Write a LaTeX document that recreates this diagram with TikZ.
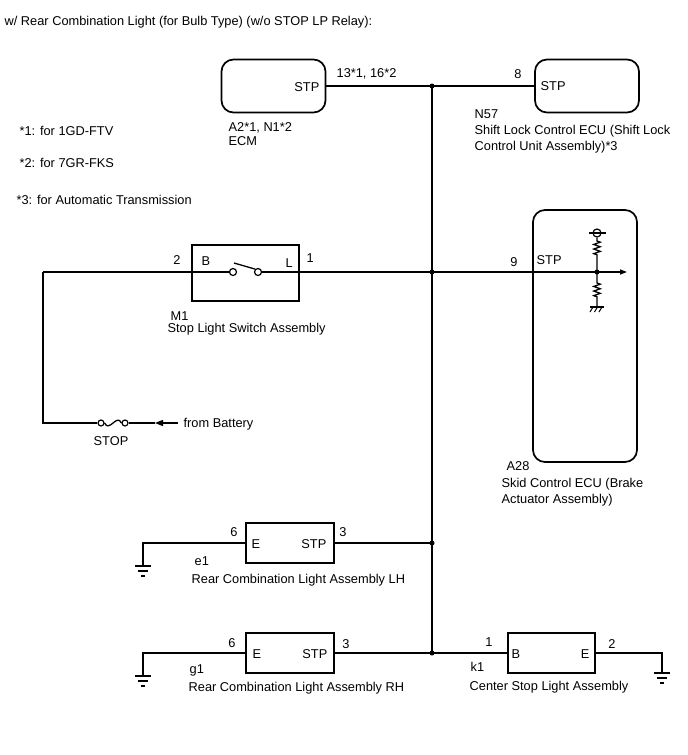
\documentclass[tikz,border=0pt]{standalone}
\usepackage{fontspec}
\setmainfont{Liberation Sans}
\usetikzlibrary{arrows.meta,decorations.pathmorphing}
\newcommand{\wdfont}{\fontsize{12.8}{15}\selectfont}

\begin{document}
\begin{tikzpicture}[x=1pt,y=-1pt,line width=1.3pt,
	every node/.style={inner sep=0pt,font=\wdfont},
	ecubox/.style={draw,line width=1.7pt,rounded corners=12pt,minimum width=104pt},
	conbox/.style={draw,line width=1.5pt,minimum width=88pt,minimum height=40pt},
	contact/.style={circle,draw,line width=1.2pt,fill=white,minimum size=7pt},
	joint/.style={circle,fill,minimum size=5pt},
	res/.style={decoration={zigzag,segment length=4.6pt,amplitude=3.2pt},decorate}]

	\useasboundingbox (0,0) rectangle (688,755);

	% notes
	\node[anchor=base west] (title) at (4,25) {w/ Rear Combination Light (for Bulb Type) (w/o STOP LP Relay):};
	\node[anchor=base west] (note1) at (19,135) {*1: for 1GD-FTV};
	\node[anchor=base west] (note2) at (19,167) {*2: for 7GR-FKS};
	\node[anchor=base west] (note3) at (16,204) {*3: for Automatic Transmission};

	% boxes
	\node[ecubox,minimum height=53pt] (ecm) at (273.5,86) {};
	\node[ecubox,minimum height=53pt] (shift) at (587,86) {};
	\node[ecubox,minimum height=252pt] (skid) at (585,336) {};
	\node[conbox,minimum width=107pt,minimum height=56pt] (swbox) at (245.5,273) {};
	\node[conbox] (rclh) at (290,543) {};
	\node[conbox] (rcrh) at (290,653) {};
	\node[conbox,minimum width=87pt] (cstop) at (551.5,653) {};

	\coordinate (j1) at (432,86);
	\coordinate (j2) at (432,272);
	\coordinate (j3) at (432,543);
	\coordinate (j4) at (432,653);
	\coordinate (skj) at (597,272);
	\coordinate (bendT) at (43,272);
	\coordinate (bendB) at (43,423);
	\coordinate (tip) at (155,423);
	\coordinate (battEnd) at (178,423);
	\coordinate (gndLH) at (143,543);
	\coordinate (gndRH) at (143,653);
	\coordinate (gndC) at (662,653);

	% wires
	\draw (ecm.east) -- (shift.west);
	\draw (j1) -- (j4);
	\draw (rclh.east) -- (j3);
	\draw (rcrh.east) -- (cstop.west);
	\draw (rclh.west) -| (gndLH) -- ++(0,23);
	\draw (rcrh.west) -| (gndRH) -- ++(0,23);
	\draw (cstop.east) -| (gndC) -- ++(0,20);
	\foreach \g/\d in {gndLH/23,gndRH/23,gndC/20} {
		\draw (\g) ++(-8,\d) -- ++(16,0);
		\draw (\g) ++(-5,\d+5) -- ++(10,0);
		\draw (\g) ++(-2,\d+10) -- ++(4,0);
	}

	% switch
	\node[contact] (c1) at (233,272) {};
	\node[contact] (c2) at (258,272) {};
	\draw (bendT) -- (c1.west);
	\draw (c2.east) -- (skj);
	\draw (c1) ++(1,-9) -- (c2.north west);

	% fuse and battery feed
	\node[contact,minimum size=6pt] (fa) at (101,423) {};
	\node[contact,minimum size=6pt] (fb) at (125,423) {};
	\draw (bendT) -- (bendB) -- (fa.west);
	\draw (fa.east) .. controls (109,433) and (117,413) .. (fb.west);
	\draw (fb.east) -- (tip);
	\draw[-{Triangle[length=8pt,width=6pt]}] (battEnd) -- (tip);

	% skid control ecu inside
	\node[contact,minimum size=8pt] (vc) at (597,233) {};
	\draw (589,233) -- (606,233);
	\draw (vc.south) -- (597,241) decorate[res] {-- (597,257)} -- (skj);
	\draw (skj) -- (597,283) decorate[res] {-- (597,298)} -- (597,307);
	\draw (590,307) -- (604,307);
	\foreach \h in {593,597.5,602} \draw[line width=1pt] (\h,307) -- ++(-3,5);
	\draw[-{Triangle[length=7pt,width=5pt]}] (skj) -- (627,272);

	\foreach \j in {j1,j2,j3,j4,skj} \node[joint] at (\j) {};

	% labels
	\node[anchor=base east] at (320,91) {STP};
	\node[anchor=base west] at (336,77) {13*1, 16*2};
	\node[anchor=base west] at (228,131) {A2*1, N1*2};
	\node[anchor=base west] at (228,145) {ECM};
	\node[anchor=base] at (518,78) {8};
	\node[anchor=base west] at (540,90) {STP};
	\node[anchor=base west] at (474,118) {N57};
	\node[anchor=base west] at (474,134) {Shift Lock Control ECU (Shift Lock};
	\node[anchor=base west] at (474,150) {Control Unit Assembly)*3};

	\node[anchor=base] at (177,264) {2};
	\node[anchor=base west] at (201,265) {B};
	\node[anchor=base west] at (285,267) {L};
	\node[anchor=base west] at (306,262) {1};
	\node[anchor=base west] at (170,320) {M1};
	\node[anchor=base west] at (167,332) {Stop Light Switch Assembly};
	\node[anchor=base west] at (183,427) {from Battery};
	\node[anchor=base] at (111,445) {STOP};

	\node[anchor=base] at (514,266) {9};
	\node[anchor=base west] at (536,264) {STP};
	\node[anchor=base west] at (506,470) {A28};
	\node[anchor=base west] at (501,487) {Skid Control ECU (Brake};
	\node[anchor=base west] at (501,503) {Actuator Assembly)};

	\node[anchor=base] at (234,536) {6};
	\node[anchor=base] at (343,536) {3};
	\node[anchor=base west] at (251,548) {E};
	\node[anchor=base east] at (327,548) {STP};
	\node[anchor=base west] at (194,565) {e1};
	\node[anchor=base west] at (191,583) {Rear Combination Light Assembly LH};

	\node[anchor=base] at (232,647) {6};
	\node[anchor=base] at (346,648) {3};
	\node[anchor=base west] at (252,658) {E};
	\node[anchor=base east] at (328,658) {STP};
	\node[anchor=base west] at (189,673) {g1};
	\node[anchor=base west] at (188,691) {Rear Combination Light Assembly RH};

	\node[anchor=base] at (489,646) {1};
	\node[anchor=base] at (612,648) {2};
	\node[anchor=base west] at (511,658) {B};
	\node[anchor=base east] at (590,658) {E};
	\node[anchor=base west] at (470,671) {k1};
	\node[anchor=base west] at (469,690) {Center Stop Light Assembly};

\end{tikzpicture}
\end{document}
